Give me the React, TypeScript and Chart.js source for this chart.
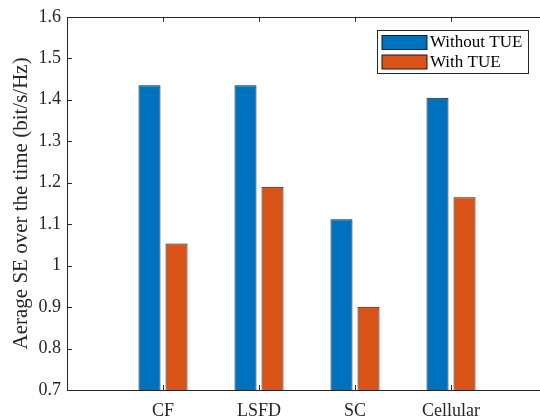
import React, { useEffect, useRef } from 'react';
import { Chart, registerables } from 'chart.js';

Chart.register(...registerables);

const categories = ['CF', 'LSFD', 'SC', 'Cellular'];
const seriesNames = ['Without TUE', 'With TUE'];
const withoutTUE = [1.435, 1.435, 1.112, 1.405];
const withTUE = [1.053, 1.19, 0.901, 1.165];
const seriesColors = ['#0072BD', '#D95319'];
const yMin = 0.7;
const yMax = 1.6;
const yStep = 0.1;
const yTitle = 'Aerage SE over the time (bit/s/Hz)';

const FONT = '"Liberation Serif", "DejaVu Serif", serif';
const AXIS = '#262626';

const framePlugin = {
  id: 'frame',
  afterDraw(chart: any) {
    const { ctx, chartArea } = chart;
    const { left, top, bottom } = chartArea;
    const xs = chart.scales.x;
    const ys = chart.scales.y;
    const xEnd = xs.getPixelForValue(categories.length + 1);
    ctx.save();
    ctx.strokeStyle = AXIS;
    ctx.lineWidth = 1;
    ctx.beginPath();
    ctx.moveTo(Math.round(left) + 0.5, Math.round(top) + 0.5);
    ctx.lineTo(Math.round(left) + 0.5, Math.round(bottom) + 0.5);
    ctx.moveTo(Math.round(left), Math.round(bottom) + 0.5);
    ctx.lineTo(Math.round(xEnd) + 1, Math.round(bottom) + 0.5);
    ctx.moveTo(Math.round(left), Math.round(top) + 0.5);
    ctx.lineTo(Math.round(xEnd) + 1, Math.round(top) + 0.5);
    ys.ticks.forEach((t: any, i: number) => {
      const py = Math.round(ys.getPixelForTick(i)) + 0.5;
      ctx.moveTo(left, py);
      ctx.lineTo(left + 5, py);
    });
    categories.forEach((_, i) => {
      const px = Math.round(xs.getPixelForValue(i + 1)) + 0.5;
      ctx.moveTo(px, bottom);
      ctx.lineTo(px, bottom - 5);
      ctx.moveTo(px, top);
      ctx.lineTo(px, top + 5);
    });
    ctx.stroke();

    // legend
    const lx = 377.5, ly = 30.5, lw = 151, lh = 43;
    ctx.fillStyle = '#ffffff';
    ctx.fillRect(lx, ly, lw, lh);
    ctx.strokeStyle = AXIS;
    ctx.strokeRect(lx, ly, lw, lh);
    ctx.font = '17px ' + FONT;
    ctx.textBaseline = 'middle';
    ctx.textAlign = 'left';
    chart.data.datasets.forEach((ds: any, i: number) => {
      const py = 35.5 + i * 19.5;
      ctx.fillStyle = ds.backgroundColor;
      ctx.fillRect(382, py, 45, 14);
      ctx.strokeStyle = '#1a1a1a';
      ctx.strokeRect(382, py, 45, 14);
      ctx.fillStyle = '#000000';
      ctx.fillText(ds.label, 430, py + 7.5);
    });
    ctx.restore();
  },
};

export default function App() {
  const ref = useRef<HTMLCanvasElement>(null);
  useEffect(() => {
    const labels = ['', ...categories, ''];
    const pad = (a: number[]) => [null, ...a, null];
    const series = [withoutTUE, withTUE];
    const chart = new Chart(ref.current as HTMLCanvasElement, {
      type: 'bar',
      data: {
        labels,
        datasets: series.map((s, i) => ({
          label: seriesNames[i],
          data: pad(s) as any,
          backgroundColor: seriesColors[i],
          borderColor: '#1a1a1a',
          borderWidth: 1,
          base: yMin,
          categoryPercentage: 0.563,
          barPercentage: 0.815,
        })),
      },
      options: {
        responsive: false,
        maintainAspectRatio: false,
        animation: false,
        devicePixelRatio: 1,
        layout: { padding: { left: 0, right: 0, top: 14, bottom: 0 } },
        plugins: { legend: { display: false }, tooltip: { enabled: false } },
        scales: {
          x: {
            offset: false,
            grid: { display: false, drawTicks: false },
            border: { display: false },
            ticks: {
              font: { family: FONT, size: 18 },
              color: AXIS,
              padding: 10,
              maxRotation: 0,
              autoSkip: false,
            },
            afterFit: (s: any) => {
              s.height = 27;
            },
          },
          y: {
            min: yMin,
            max: yMax,
            grid: { display: false, drawTicks: false },
            border: { display: false },
            ticks: {
              stepSize: yStep,
              font: { family: FONT, size: 18 },
              color: AXIS,
              padding: 6,
              callback: (v: any) => String(Number(Number(v).toFixed(1))),
            },
            title: {
              display: true,
              text: yTitle,
              font: { family: FONT, size: 21 },
              color: AXIS,
              padding: { top: 9, bottom: 0 },
            },
            afterFit: (s: any) => {
              s.width = 67;
            },
          },
        },
      },
      plugins: [framePlugin],
    });
    return () => chart.destroy();
  }, []);
  return (
    <div style={{ position: 'fixed', left: 0, top: 0, width: 540, height: 417, overflow: 'hidden', background: '#fff' }}>
      <div style={{ width: 557, height: 417 }}>
        <canvas ref={ref} width={557} height={417} style={{ width: 557, height: 417, display: 'block' }} />
      </div>
    </div>
  );
}
